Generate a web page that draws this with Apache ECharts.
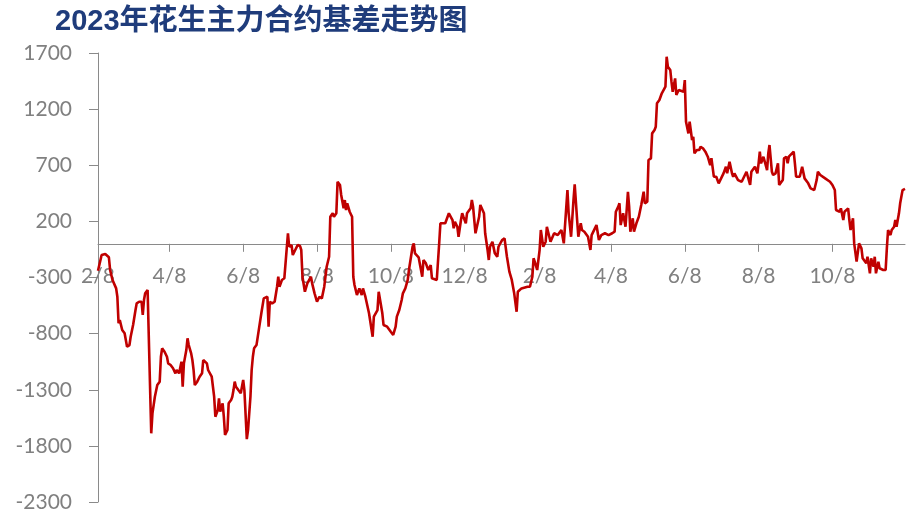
<!DOCTYPE html>
<html><head><meta charset="utf-8">
<script src="https://cdn.jsdelivr.net/npm/echarts@6/dist/echarts.min.js"></script>
<style>html,body{margin:0;padding:0;background:#fff}#c{width:906px;height:517px}</style>
</head><body><div id="c"></div>
<script>
const titleText = '2023年花生主力合约基差走势图';
const startDate = [2022, 2, 8];
const endOffset = 667;
const dayOffsets = [0,3,6,9,10,12,13,15,16,17,18,20,22,23,24,26,27,29,30,31,32,34,36,37,38,39,40,41,42,44,45,47,49,51,52,53,55,57,58,60,62,64,65,67,68,69,70,71,73,74,75,77,78,79,80,82,84,86,87,88,90,91,92,94,95,96,97,99,100,101,103,104,105,107,108,110,111,112,113,114,116,118,119,120,121,123,124,126,127,128,129,131,132,133,135,137,140,141,142,144,146,148,149,150,152,154,156,157,158,160,161,163,165,167,168,169,171,173,174,176,177,179,181,183,185,187,188,189,191,192,194,195,197,198,200,201,203,204,205,206,208,210,211,212,214,216,218,219,221,224,227,228,231,232,233,235,236,239,242,244,246,247,249,251,252,254,256,257,260,261,262,265,268,269,271,273,275,276,280,282,283,284,287,290,293,294,295,297,298,300,301,302,304,305,308,309,310,312,313,315,316,317,319,320,322,323,324,326,328,330,331,334,336,338,340,342,343,344,346,347,350,355,357,359,360,361,363,365,366,368,370,371,372,374,375,377,380,383,385,388,389,391,393,394,396,397,399,400,402,405,407,408,412,414,416,419,422,425,427,428,430,431,432,434,436,438,439,440,442,443,445,447,449,451,452,454,455,457,458,460,461,462,464,465,466,469,470,471,473,474,475,477,478,480,484,485,486,488,489,491,492,493,495,497,498,500,502,504,506,507,509,511,513,515,517,519,520,522,524,525,526,529,532,534,536,539,540,543,545,546,547,548,550,553,554,555,557,558,560,562,563,566,567,569,570,571,575,576,577,580,581,582,584,587,589,592,594,595,597,601,605,607,609,610,613,614,616,617,620,621,622,624,625,627,629,631,632,635,636,638,639,641,642,643,645,646,649,651,652,653,655,656,658,659,660,662,663,665,667];
const basisValues = [-240,-100,-91,-120,-233,-322,-305,-397,-471,-708,-679,-768,-797,-857,-917,-902,-828,-723,-708,-590,-530,-516,-516,-634,-501,-441,-456,-412,-412,-1688,-1510,-1362,-1258,-1228,-1006,-931,-961,-1006,-1065,-1080,-1109,-1154,-1124,-1154,-1139,-1050,-1273,-1065,-946,-842,-902,-976,-1035,-1124,-1258,-1228,-1184,-1154,-1035,-1050,-1065,-1124,-1109,-1184,-1273,-1362,-1540,-1481,-1377,-1496,-1421,-1540,-1703,-1659,-1421,-1392,-1362,-1303,-1228,-1273,-1303,-1332,-1332,-1213,-1303,-1740,-1659,-1362,-1124,-1006,-931,-902,-902,-760,-619,-486,-471,-738,-516,-530,-516,-382,-293,-382,-322,-307,-40,94,-26,-11,-100,-55,-11,-20,-55,-293,-427,-352,-367,-293,-352,-441,-516,-471,-486,-382,-293,-204,-115,241,272,241,272,553,524,435,316,390,301,361,286,241,-293,-367,-456,-397,-456,-397,-471,-619,-828,-649,-590,-427,-441,-619,-723,-738,-783,-812,-738,-649,-590,-501,-441,-397,-322,-233,-26,4,-85,-120,-293,-144,-174,-233,-189,-307,-322,4,183,197,183,272,212,138,197,152,63,212,272,241,183,272,316,390,331,94,78,241,346,331,272,94,-55,-144,-26,19,-85,-115,-26,34,49,-115,-248,-322,-307,-441,-605,-427,-397,-382,-382,-293,-129,-159,-233,-55,123,-26,19,152,108,19,34,94,78,123,4,479,272,63,390,530,212,63,183,123,108,63,-55,78,167,34,78,94,78,94,108,286,331,361,167,272,152,464,331,108,227,108,183,241,346,464,361,375,747,761,984,1014,1043,1252,1281,1296,1341,1400,1667,1578,1548,1444,1355,1474,1326,1370,1355,1459,1088,984,1088,925,954,806,836,836,865,851,821,776,702,762,598,598,539,583,628,687,628,732,628,598,628,568,553,598,642,524,642,687,628,717,821,717,776,657,806,880,642,613,628,717,524,568,761,776,717,776,821,717,598,598,642,687,583,539,494,479,568,642,613,583,553,524,479,301,286,316,212,286,316,212,123,227,4,-159,4,-40,-129,-174,-115,-263,-129,-204,-115,-263,-159,-218,-233,-233,-40,123,78,123,152,212,152,272,361,479,490];
const tickDates = [[2022,2,8],[2022,4,8],[2022,6,8],[2022,8,8],[2022,10,8],[2022,12,8],[2023,2,8],[2023,4,8],[2023,6,8],[2023,8,8],[2023,10,8]];
const tickLabels = ['2/8','4/8','6/8','8/8','10/8','12/8','2/8','4/8','6/8','8/8','10/8'];
const yTicks = [-2300,-1800,-1300,-800,-300,200,700,1200,1700];

// x positions are calendar-day offsets from the start date
const DAY = 86400000;
const utc = (y, m, d) => Date.UTC(y, m - 1, d);
const start = utc(startDate[0], startDate[1], startDate[2]);
const tickOffsets = tickDates.map(t => Math.round((utc(t[0], t[1], t[2]) - start) / DAY));
const seriesData = dayOffsets.map((o, i) => [o, basisValues[i]]);

const H = 517, gridTop = 53, gridBottom = 15;
const yMin = yTicks[0], yMax = yTicks[yTicks.length - 1];
const gridH = H - gridTop - gridBottom;
// place the x axis on the zero line of the value axis
const zeroOffset = -gridH * (0 - yMin) / (yMax - yMin);

const gray = '#808080';
const axisColor = '#8a8a8a';
const chart = echarts.init(document.getElementById('c'), null, {renderer: 'canvas'});
chart.setOption({
  animation: false,
  backgroundColor: '#ffffff',
  title: {
    text: titleText, left: 50, top: 2,
    textStyle: {fontFamily: '"Liberation Sans","Noto Sans CJK SC",sans-serif', fontWeight: 'bold', fontSize: 29, color: '#1F3C7B'}
  },
  grid: {left: 98, right: 1, top: gridTop, bottom: gridBottom, containLabel: false, outerBoundsMode: 'none'},
  xAxis: {
    type: 'value', min: 0, max: endOffset, position: 'bottom', offset: zeroOffset,
    axisLine: {onZero: false, lineStyle: {color: axisColor, width: 1}},
    axisTick: {show: true, inside: false, length: 8, customValues: tickOffsets, lineStyle: {color: axisColor}},
    axisLabel: {
      customValues: tickOffsets, margin: 22, color: gray, fontSize: 21, fontFamily: 'Lato, sans-serif',
      hideOverlap: false,
      formatter: (v) => { const i = tickOffsets.indexOf(Math.round(v)); return i >= 0 ? tickLabels[i] : ''; }
    },
    splitLine: {show: false}
  },
  yAxis: {
    type: 'value', min: yMin, max: yMax,
    axisLine: {show: true, onZero: false, lineStyle: {color: axisColor, width: 1}},
    axisTick: {show: true, inside: false, length: 9, customValues: yTicks, lineStyle: {color: axisColor}},
    axisLabel: {customValues: yTicks, margin: 26, color: gray, fontSize: 21, fontFamily: 'Lato, sans-serif', formatter: (v) => String(v)},
    splitLine: {show: false}
  },
  series: [{
    type: 'line', data: seriesData, showSymbol: false, symbol: 'none',
    lineStyle: {color: '#C00000', width: 2.6}, z: 3
  }]
});
</script></body></html>
